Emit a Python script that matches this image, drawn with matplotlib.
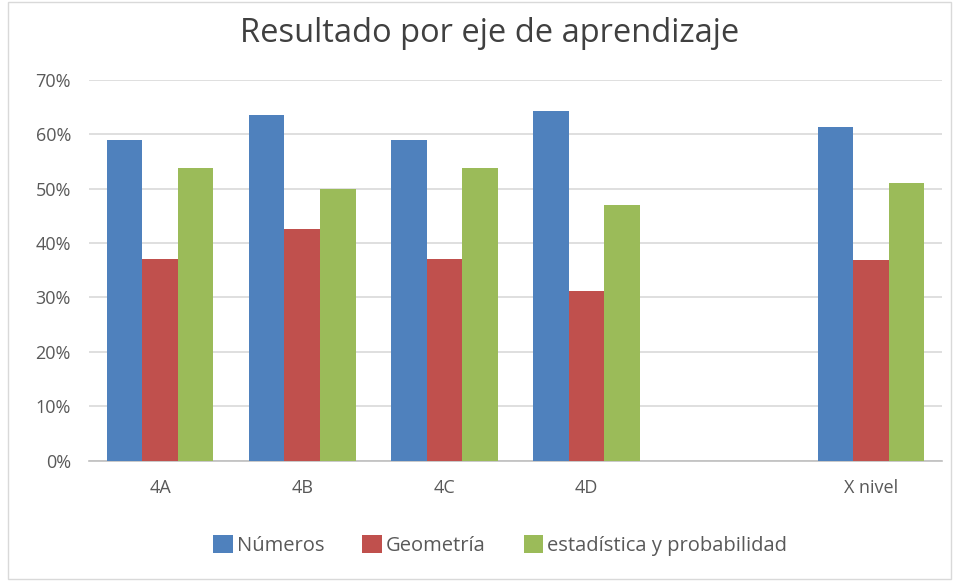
import numpy as np
import matplotlib
matplotlib.use("Agg")
import matplotlib.pyplot as plt
from matplotlib.patches import Rectangle

plt.rcParams['font.family'] = ['Open Sans', 'DejaVu Sans']

# Results per group (the blank slot separates the groups from the level average)
categories = ['4A', '4B', '4C', '4D', '', 'X nivel']
numeros = [0.590, 0.636, 0.590, 0.642, np.nan, 0.614]
geometria = [0.370, 0.425, 0.370, 0.311, np.nan, 0.369]
estadistica = [0.537, 0.500, 0.537, 0.469, np.nan, 0.510]

series_names = ['Números', 'Geometría', 'estadística y probabilidad']
colors = ['#4F81BD', '#C0504D', '#9BBB59']
y_ticks = [0, 0.1, 0.2, 0.3, 0.4, 0.5, 0.6, 0.7]

fig = plt.figure(figsize=(9.58, 5.82), dpi=100)
ax = fig.add_axes([0.0929, 0.2084, 0.8904, 0.6546])

x = np.arange(len(categories))
width = 0.25
for i, (vals, name, c) in enumerate(zip([numeros, geometria, estadistica], series_names, colors)):
    ax.bar(x + (i - 1) * width, vals, width, color=c, label=name, zorder=3)

ax.set_xlim(-0.5, len(categories) - 0.5)
ax.set_ylim(0, 0.7)
ax.set_yticks(y_ticks)
ax.set_yticklabels([f'{int(round(t * 100))}%' for t in y_ticks])
ax.set_xticks(x)
ax.set_xticklabels(categories)

ax.grid(axis='y', color='#D9D9D9', linewidth=1.2, zorder=0)
for s in ['top', 'right', 'left']:
    ax.spines[s].set_visible(False)
ax.spines['bottom'].set_color('#BFBFBF')
ax.spines['bottom'].set_linewidth(1.2)
ax.tick_params(axis='both', length=0, labelsize=13, colors='#595959')
ax.tick_params(axis='y', pad=13)
ax.tick_params(axis='x', pad=13)

fig.text(0.511, 0.943, 'Resultado por eje de aprendizaje', ha='center', va='center',
         fontsize=23.5, color='#404040')

fig.legend(loc='center', bbox_to_anchor=(0.522, 0.062), ncol=3, frameon=False,
           fontsize=14.5, handlelength=0.95, handleheight=1.0, handletextpad=0.2,
           columnspacing=1.9, labelcolor='#595959')

# thin frame around the chart area
fig.add_artist(Rectangle((0.008, 0.006), 0.985, 0.99, transform=fig.transFigure,
                         fill=False, edgecolor='#D9D9D9', linewidth=1))

fig.savefig('out.png', dpi=100)
